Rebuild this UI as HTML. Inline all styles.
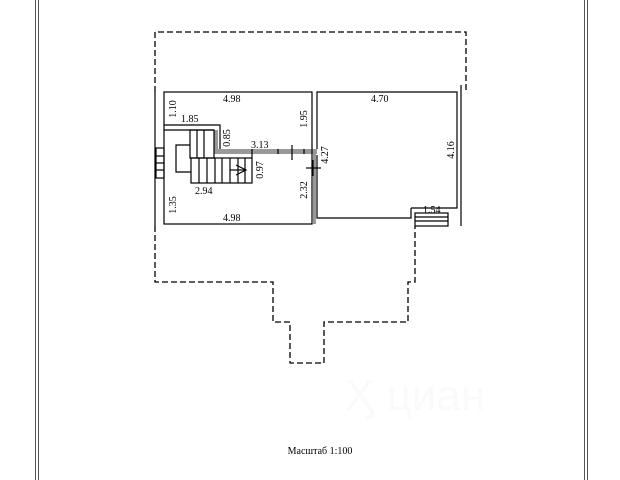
<!DOCTYPE html>
<html><head><meta charset="utf-8"><style>body{margin:0;background:#fff}svg{display:block}text{font-family:"Liberation Serif",serif;font-size:10px;fill:#000}</style></head>
<body>
<svg width="620" height="480" viewBox="0 0 620 480" xmlns="http://www.w3.org/2000/svg">
<g stroke="#555" stroke-width="1" fill="none">
<line x1="35.5" y1="0" x2="35.5" y2="480"/><line x1="38.5" y1="0" x2="38.5" y2="480"/>
<line x1="584.5" y1="0" x2="584.5" y2="480"/><line x1="587.5" y1="0" x2="587.5" y2="480"/>
</g>
<g stroke="#000" stroke-width="1.3" fill="none" stroke-dasharray="6,3">
<polyline points="155,92 155,32 466,32 466,92"/>
<polyline points="155,226 155,282 273,282 273,322 290,322 290,363 324,363 324,322 408,322 408,282 415,282 415,226"/>
</g>
<g fill="#999" stroke="none">
<rect x="214" y="130" width="4" height="22"/>
<rect x="214" y="149" width="103" height="5"/>
<rect x="313" y="154" width="3" height="70"/>
</g>
<g stroke="#000" stroke-width="1.2" fill="none">
<line x1="155" y1="92" x2="155" y2="226"/>
<line x1="461" y1="85" x2="461" y2="226"/>
<rect x="164" y="92" width="148" height="132"/>
<polyline points="317,149 317,92 457,92 457,208 448,208"/>
<polyline points="317,155 317,218 411,218 411,208"/>
<line x1="411" y1="208" x2="448" y2="208"/>
<polyline points="164,125 220,125 220,149"/>
<line x1="164" y1="130" x2="214" y2="130"/>
<polyline points="190,145 176,145 176,172 191,172"/>
<rect x="190" y="130" width="24" height="28"/>
<rect x="191" y="158" width="61" height="25"/>
<line x1="197" y1="130" x2="197" y2="158"/><line x1="204" y1="130" x2="204" y2="158"/>
<line x1="199" y1="158" x2="199" y2="183"/><line x1="207" y1="158" x2="207" y2="183"/><line x1="215" y1="158" x2="215" y2="183"/><line x1="222" y1="158" x2="222" y2="183"/><line x1="230" y1="158" x2="230" y2="183"/><line x1="238" y1="158" x2="238" y2="183"/><line x1="245" y1="158" x2="245" y2="183"/>
<polyline points="236,165 246,170 236,175"/><line x1="230" y1="170" x2="246" y2="170"/>
<line x1="252" y1="149" x2="252" y2="158"/>
<rect x="156" y="148" width="8" height="30"/>
<line x1="156" y1="156" x2="164" y2="156"/><line x1="156" y1="163" x2="164" y2="163"/><line x1="156" y1="170" x2="164" y2="170"/>
<rect x="415" y="213" width="33" height="13"/>
<line x1="415" y1="217" x2="448" y2="217"/><line x1="415" y1="221" x2="448" y2="221"/>
<line x1="278" y1="149" x2="278" y2="154"/><line x1="292" y1="145" x2="292" y2="160"/><line x1="304" y1="149" x2="304" y2="154"/>
<line x1="306" y1="168" x2="321" y2="168"/><line x1="313" y1="160" x2="313" y2="176"/>
</g>
<text x="223" y="102">4.98</text>
<text x="223" y="221">4.98</text>
<text x="181" y="122">1.85</text>
<text x="251" y="148">3.13</text>
<text x="195" y="194">2.94</text>
<text x="371" y="102">4.70</text>
<text x="423" y="213">1.54</text>
<text transform="translate(176,109) rotate(-90)" text-anchor="middle">1.10</text>
<text transform="translate(176,205) rotate(-90)" text-anchor="middle">1.35</text>
<text transform="translate(230,138) rotate(-90)" text-anchor="middle">0.85</text>
<text transform="translate(263,170) rotate(-90)" text-anchor="middle">0.97</text>
<text transform="translate(307,119) rotate(-90)" text-anchor="middle">1.95</text>
<text transform="translate(307,190) rotate(-90)" text-anchor="middle">2.32</text>
<text transform="translate(328,155) rotate(-90)" text-anchor="middle">4.27</text>
<text transform="translate(454,150) rotate(-90)" text-anchor="middle">4.16</text>
<text x="320" y="454" text-anchor="middle">Масштаб 1:100</text>
<text x="345" y="410" style="font-family:'Liberation Sans',sans-serif;font-size:44px;fill:#fafafa">Ӽ циан</text>
</svg>
</body></html>
